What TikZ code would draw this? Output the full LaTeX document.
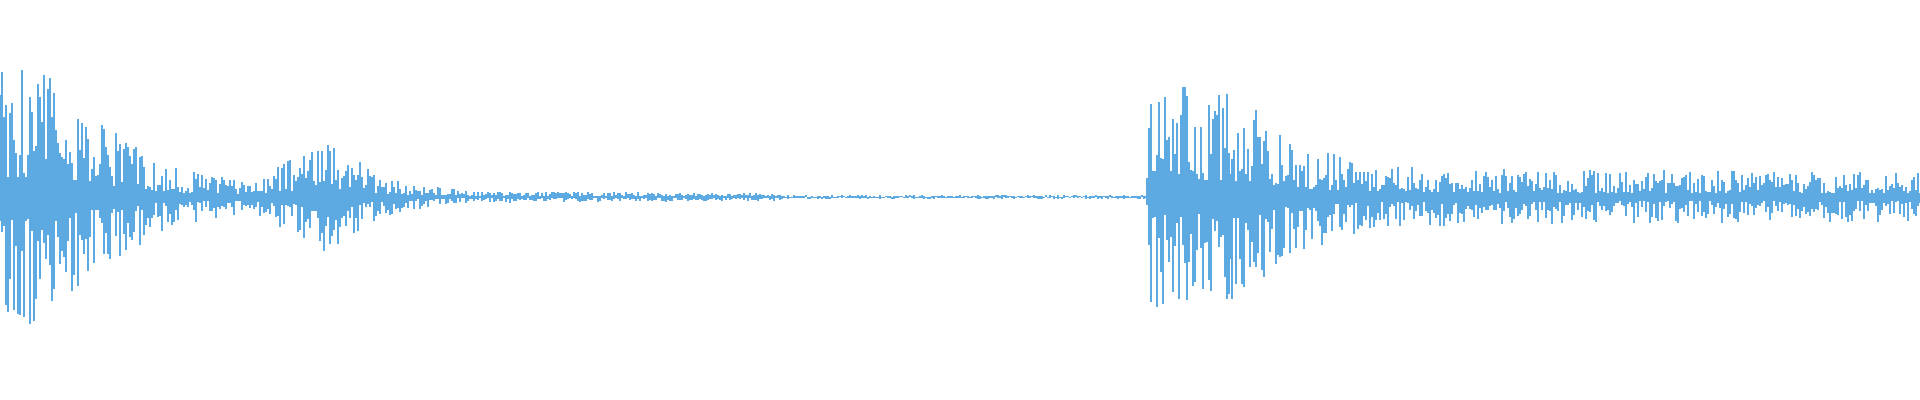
\documentclass[tikz,border=0pt]{standalone}
\usepackage{tikz}
\definecolor{wave}{RGB}{93,170,226}
\tikzset{sample/.style={draw=wave, line width=0.3pt}}
\begin{document}
\begin{tikzpicture}[x=0.01cm, y=0.01cm]
\useasboundingbox (0,0) rectangle (1920,400);
\pgfmathsetseed{4711}
% envelope segments: x0/x1/a0/a1 (pixels)
\foreach \xa/\xb/\aa/\ab in {0/40/130/130, 40/110/130/70, 110/170/70/30,
  170/250/30/15, 250/290/15/40, 290/330/40/60, 330/380/60/20, 380/420/20/12,
  420/460/12/8, 460/780/6/4, 780/1145/2/2, 1145/1151/2/125, 1151/1230/125/110,
  1230/1290/110/60, 1290/1360/60/35, 1360/1460/35/28, 1460/1920/28/25}{
  \foreach \x in {\xa,\the\numexpr\xa+2\relax,...,\xb}{
    \pgfmathsetmacro{\amp}{\aa+(\ab-\aa)*(\x-\xa)/max(\xb-\xa,1)}
    \pgfmathsetmacro{\up}{\amp*(0.15+0.85*rnd^1.4)}
    \pgfmathsetmacro{\dn}{\amp*(0.15+0.85*rnd^1.4)}
    \draw[sample] (\x,203+\up) -- (\x,203-\dn);
  }
}
\end{tikzpicture}
\end{document}
